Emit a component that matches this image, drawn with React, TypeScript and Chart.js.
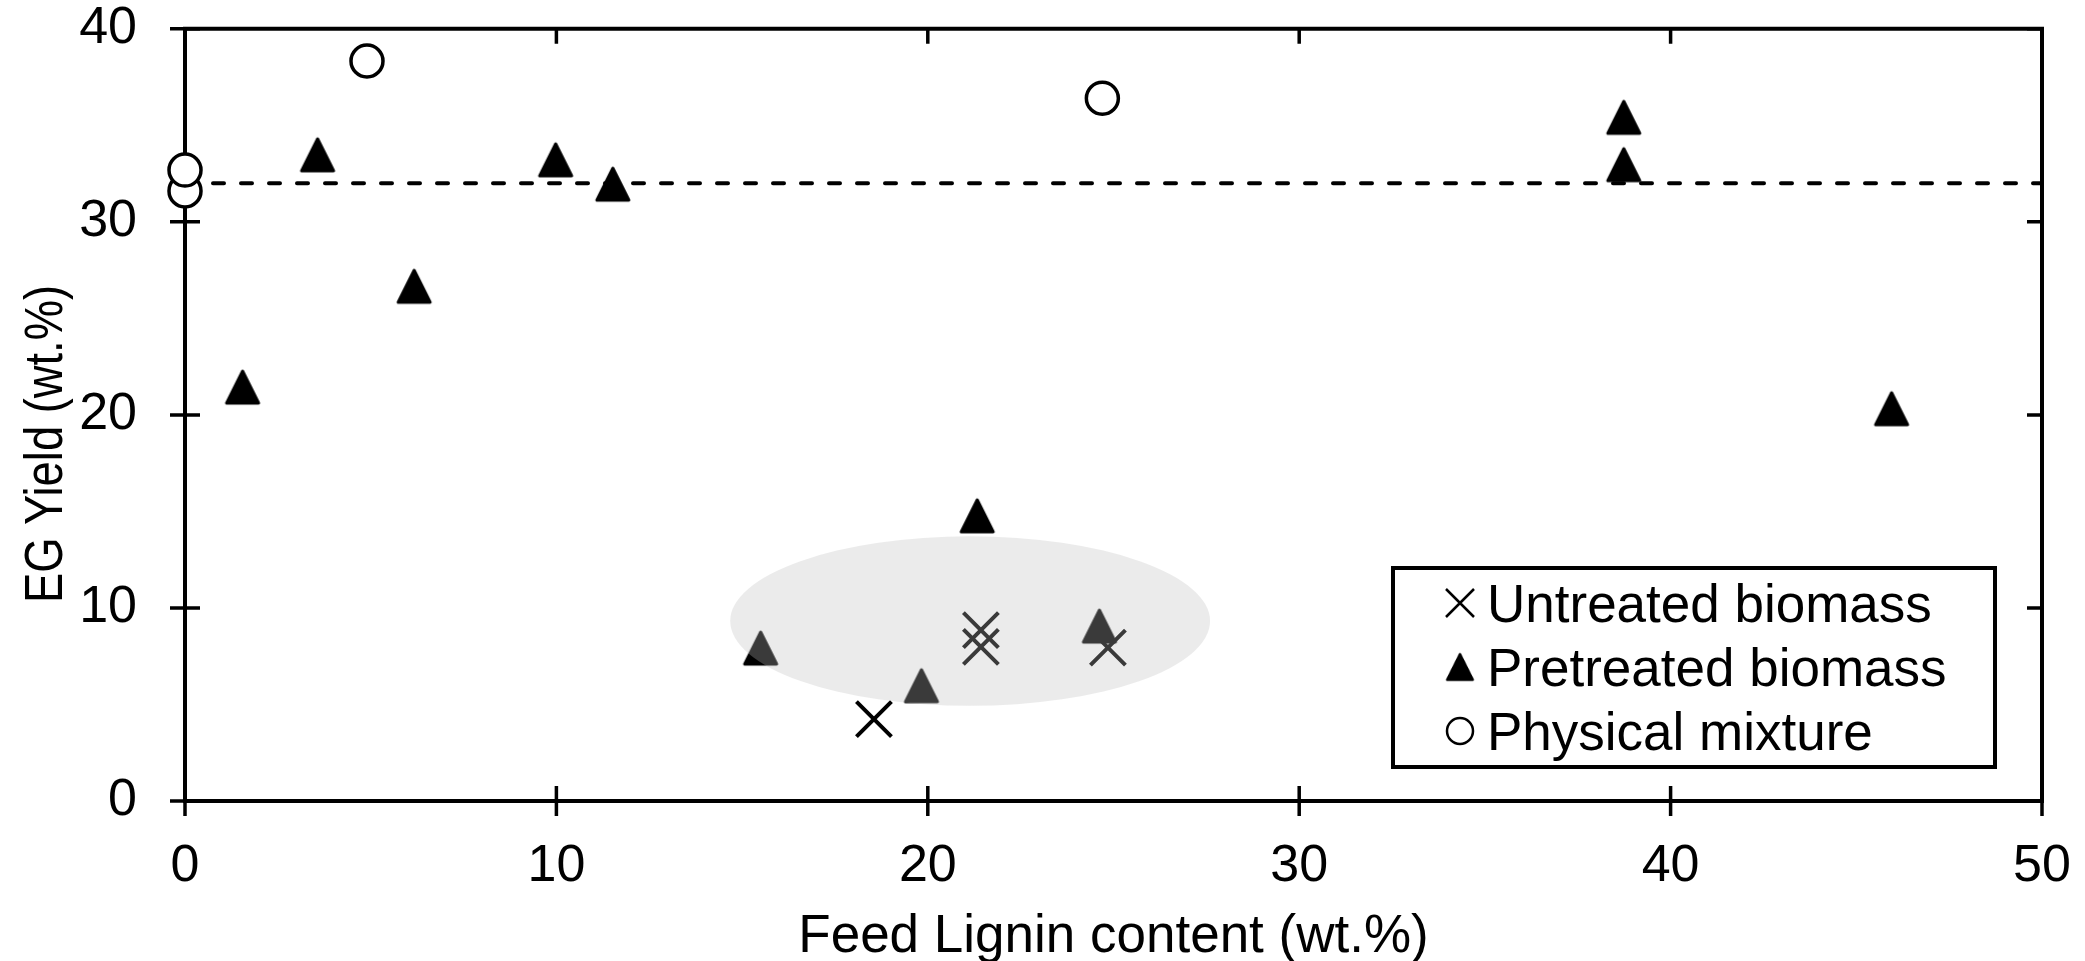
import { useEffect, useRef } from 'react';
import { Chart, registerables } from 'chart.js';

Chart.register(...registerables);

// ---- data ----
const xTicks = [0, 10, 20, 30, 40, 50];
const yTicks = [0, 10, 20, 30, 40];

const untreatedX = [18.55, 21.43, 21.43, 24.85];
const untreatedY = [4.24, 8.85, 7.98, 7.94];

const pretreatedX = [1.55, 3.57, 6.17, 9.98, 11.52, 15.5, 19.83, 21.33, 24.62, 38.74, 38.74, 45.95];
const pretreatedY = [21.44, 33.47, 26.66, 33.21, 31.95, 7.92, 5.97, 14.77, 9.06, 35.41, 32.96, 20.32];

const physicalX = [0, 0, 4.9, 24.7];
const physicalY = [31.6, 32.68, 38.33, 36.4];

const refLineX = [0, 50];
const refLineY = [32, 32];

const seriesLabels = ['Untreated biomass', 'Pretreated biomass', 'Physical mixture'];

const xTitle = 'Feed Lignin content (wt.%)';
const yTitle = 'EG Yield (wt.%)';

// grey highlight ellipse (data units)
const ellipseCenter = [21.14, 9.32];
const ellipseRadius = [6.46, 4.39];

const FONT = "'Liberation Sans', Arial, Helvetica, sans-serif";

function pts(xs: number[], ys: number[]) {
  return xs.map((x, i) => ({ x, y: ys[i] }));
}

export default function App() {
  const ref = useRef<HTMLCanvasElement>(null);

  useEffect(() => {
    const canvas = ref.current!;
    const tri = document.createElement('canvas');
    tri.width = 40;
    tri.height = 40;
    const t = tri.getContext('2d')!;
    t.beginPath();
    t.moveTo(20, 4);
    t.lineTo(36, 36);
    t.lineTo(4, 36);
    t.closePath();
    t.fillStyle = '#000';
    t.fill();
    t.lineJoin = 'round';
    t.lineWidth = 3;
    t.strokeStyle = '#000';
    t.stroke();

    const framePlugin = {
      id: 'frameTicks',
      beforeDatasetsDraw(chart: any) {
        const { ctx, chartArea: a, scales } = chart;
        const xs = scales.x;
        const ys = scales.y;
        ctx.save();
        ctx.strokeStyle = '#000';
        ctx.lineWidth = 4;
        ctx.strokeRect(a.left, a.top, a.right - a.left, a.bottom - a.top);
        ctx.lineWidth = 3.5;
        ctx.beginPath();
        for (const v of xTicks) {
          const px = xs.getPixelForValue(v);
          ctx.moveTo(px, a.bottom + 15);
          ctx.lineTo(px, a.bottom - 15);
          ctx.moveTo(px, a.top);
          ctx.lineTo(px, a.top + 15);
        }
        for (const v of yTicks) {
          const py = ys.getPixelForValue(v);
          ctx.moveTo(a.left - 15, py);
          ctx.lineTo(a.left + 15, py);
          ctx.moveTo(a.right, py);
          ctx.lineTo(a.right - 15, py);
        }
        ctx.stroke();
        ctx.restore();
      },
      afterDatasetsDraw(chart: any) {
        const { ctx, scales } = chart;
        const xs = scales.x;
        const ys = scales.y;
        const cx = xs.getPixelForValue(ellipseCenter[0]);
        const cy = ys.getPixelForValue(ellipseCenter[1]);
        const rx = xs.getPixelForValue(ellipseCenter[0] + ellipseRadius[0]) - cx;
        const ry = cy - ys.getPixelForValue(ellipseCenter[1] + ellipseRadius[1]);
        ctx.save();
        ctx.fillStyle = 'rgba(190,190,190,0.306)';
        ctx.beginPath();
        ctx.ellipse(cx, cy, rx, ry, 0, 0, Math.PI * 2);
        ctx.fill();
        ctx.restore();
      },
      afterDraw(chart: any) {
        const { ctx, chartArea: a } = chart;
        ctx.save();
        ctx.fillStyle = '#000';
        // axis titles
        ctx.font = `53px ${FONT}`;
        ctx.textAlign = 'center';
        ctx.textBaseline = 'alphabetic';
        ctx.fillText(xTitle, (a.left + a.right) / 2, 952);
        ctx.save();
        ctx.translate(62, 444);
        ctx.rotate(-Math.PI / 2);
        ctx.scale(0.855, 1);
        ctx.fillText(yTitle, 0, 0);
        ctx.restore();

        // legend box
        const bl = a.right - 649;
        const bt = 568;
        const br = a.right - 47;
        const bb = a.bottom - 34;
        ctx.strokeStyle = '#000';
        ctx.lineWidth = 4;
        ctx.strokeRect(bl, bt, br - bl, bb - bt);
        const rows = [603, 667, 731];
        const mx = bl + 67;
        ctx.font = `53px ${FONT}`;
        ctx.textAlign = 'left';
        rows.forEach((ry, i) => {
          ctx.lineWidth = 2.5;
          if (i === 0) {
            ctx.beginPath();
            ctx.moveTo(mx - 14, ry - 14);
            ctx.lineTo(mx + 14, ry + 14);
            ctx.moveTo(mx - 14, ry + 14);
            ctx.lineTo(mx + 14, ry - 14);
            ctx.stroke();
          } else if (i === 1) {
            ctx.drawImage(tri, mx - 16, ry - 16, 32, 32);
          } else {
            ctx.beginPath();
            ctx.arc(mx, ry, 13, 0, Math.PI * 2);
            ctx.fillStyle = '#fff';
            ctx.fill();
            ctx.stroke();
            ctx.fillStyle = '#000';
          }
          ctx.fillText(seriesLabels[i], bl + 94, ry + 19);
        });
        ctx.restore();
      },
    };

    const chart = new Chart(canvas, {
      type: 'scatter',
      data: {
        datasets: [
          {
            label: seriesLabels[2],
            data: pts(physicalX, physicalY),
            pointStyle: 'circle',
            pointRadius: 16,
            pointBorderWidth: 3.5,
            pointBackgroundColor: '#fff',
            pointBorderColor: '#000',
            order: 0,
            clip: false,
          },
          {
            label: seriesLabels[0],
            data: pts(untreatedX, untreatedY),
            pointStyle: 'crossRot',
            pointRadius: 24.75,
            pointBorderWidth: 4,
            pointBorderColor: '#000',
            pointBackgroundColor: '#000',
            order: 1,
            clip: false,
          },
          {
            label: seriesLabels[1],
            data: pts(pretreatedX, pretreatedY),
            pointStyle: tri as any,
            pointRadius: 18,
            order: 2,
            clip: false,
          },
          {
            label: 'reference',
            data: pts(refLineX, refLineY),
            showLine: true,
            borderColor: '#000',
            borderWidth: 4,
            borderDash: [11, 17],
            borderCapStyle: 'round',
            pointRadius: 0,
            fill: false,
            order: 3,
            clip: false,
          } as any,
        ],
      },
      options: {
        responsive: false,
        animation: false,
        devicePixelRatio: 1,
        layout: { padding: { top: 28, right: 43, left: 0, bottom: 0 } },
        plugins: {
          legend: { display: false },
          tooltip: { enabled: false },
        },
        scales: {
          x: {
            type: 'linear',
            min: 0,
            max: 50,
            afterBuildTicks: (s: any) => {
              s.ticks = xTicks.map((v) => ({ value: v }));
            },
            grid: { display: false, drawTicks: false },
            border: { display: false },
            ticks: {
              padding: 34,
              color: '#000',
              autoSkip: false,
              maxRotation: 0,
              font: { family: FONT, size: 52 },
            },
            afterFit: (s: any) => {
              s.height = 160;
              s.paddingLeft = 0;
              s.paddingRight = 0;
            },
          },
          y: {
            type: 'linear',
            min: 0,
            max: 40,
            afterBuildTicks: (s: any) => {
              s.ticks = yTicks.map((v) => ({ value: v }));
            },
            grid: { display: false, drawTicks: false },
            border: { display: false },
            ticks: {
              padding: 48,
              color: '#000',
              autoSkip: false,
              font: { family: FONT, size: 52 },
            },
            afterFit: (s: any) => {
              s.width = 185;
              s.paddingTop = 0;
              s.paddingBottom = 0;
            },
          },
        },
      } as any,
      plugins: [framePlugin],
    });

    return () => chart.destroy();
  }, []);

  return (
    <canvas
      ref={ref}
      width={2085}
      height={961}
      style={{ position: 'absolute', left: 0, top: 0, width: 2085, height: 961, display: 'block' }}
    />
  );
}
